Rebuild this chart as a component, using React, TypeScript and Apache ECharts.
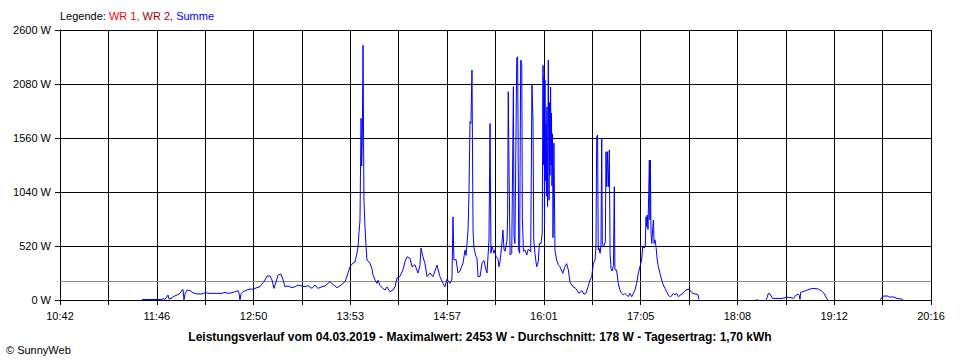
import React, { useEffect, useRef } from "react";
import * as echarts from "echarts";

// x-axis: minutes since 10:42 (span 10:42 .. 20:16 = 574 min)
const timeLabels = ["10:42", "11:46", "12:50", "13:53", "14:57", "16:01", "17:05", "18:08", "19:12", "20:16"];
const spanMinutes = 574;
const divisions = 18;
const yMax = 2600;
const yStep = 520;
const averageWatts = 178;

const titleText =
  "Leistungsverlauf vom 04.03.2019 - Maximalwert: 2453 W - Durchschnitt: 178 W - Tagesertrag: 1,70 kWh";

// Summe (W) sampled over time (minutes since 10:42); null = no data
const sampleMinutes: number[] = [
  54.0, 67.2, 67.9, 69.2, 71.2, 71.8, 73.8, 74.5, 77.1, 79.1, 80.4, 81.1, 81.7, 82.4, 83.7, 85.7, 87.6, 90.3, 93.6, 95.6,
  98.9, 103.5, 106.8, 108.7, 110.7, 113.3, 115.3, 117.3, 118.0, 118.6, 119.3, 120.6, 123.2, 125.2, 127.2, 129.8, 131.8,
  133.8, 135.1, 136.4, 138.4, 139.7, 141.0, 142.3, 143.7, 145.6, 147.0, 148.3, 150.3, 152.9, 154.9, 156.8, 159.5, 161.5,
  163.4, 166.1, 168.0, 170.0, 172.7, 174.6, 176.6, 177.9, 179.9, 182.5, 184.5, 186.5, 187.8, 189.1, 189.8, 191.1, 193.1,
  194.4, 195.7, 196.4, 197.0, 197.7, 198.4, 198.8, 199.2, 199.7, 200.3, 201.0, 201.7, 202.3, 204.3, 205.6, 206.3, 207.6,
  208.9, 209.6, 210.9, 212.9, 214.2, 215.5, 217.5, 219.4, 220.8, 222.1, 224.1, 226.0, 227.4, 228.7, 230.7, 232.0, 233.9,
  235.9, 237.2, 237.9, 239.2, 240.5, 241.9, 243.8, 245.8, 247.1, 248.4, 250.4, 252.4, 253.7, 255.0, 257.0, 258.3, 259.0,
  259.6, 261.0, 262.3, 263.6, 265.6, 266.9, 267.6, 268.9, 269.5, 270.2, 270.8, 271.5, 272.2, 272.8, 274.1, 274.8, 275.5,
  276.8, 278.1, 279.4, 280.7, 281.4, 282.7, 283.4, 284.0, 284.7, 286.0, 286.6, 287.3, 288.6, 289.3, 290.0, 291.3, 291.9,
  292.6, 293.3, 294.6, 295.0, 295.4, 295.9, 296.6, 297.7, 298.8, 299.2, 299.8, 301.0, 301.6, 302.3, 302.9, 303.6, 304.3,
  304.7, 305.4, 306.4, 307.6, 308.6, 310.2, 311.0, 311.7, 312.2, 313.0, 314.1, 315.2, 315.9, 317.0, 317.8, 318.3, 318.6,
  319.0, 319.3, 319.6, 320.0, 320.3, 320.6, 320.9, 321.3, 321.8, 322.3, 322.6, 322.9, 323.3, 323.6, 323.9, 324.2, 324.6,
  324.9, 325.5, 326.2, 327.3, 328.4, 329.5, 331.3, 332.8, 333.9, 335.0, 336.1, 338.1, 340.0, 342.0, 344.0, 345.3, 346.6,
  348.0, 349.3, 350.4, 351.5, 352.6, 353.2, 353.7, 354.3, 354.7, 355.2, 355.9, 356.5, 357.0, 357.4, 358.0, 358.7, 359.4,
  359.8, 360.3, 360.7, 361.4, 362.0, 362.5, 363.1, 363.8, 364.7, 365.3, 365.7, 366.8, 367.9, 369.0, 370.1, 371.2, 372.3,
  373.4, 374.5, 375.6, 376.8, 377.8, 378.9, 380.0, 381.1, 382.2, 383.3, 384.0, 384.9, 385.7, 386.2, 386.6, 387.0, 387.5,
  388.0, 388.4, 388.8, 389.0, 389.5, 390.0, 390.7, 391.1, 391.5, 392.1, 392.8, 393.6, 394.3, 395.4, 396.5, 397.6, 398.7,
  399.8, 400.9, 402.0, 403.1, 404.2, 405.3, 406.4, 407.5, 408.6, 410.6, 411.9, 413.2, 414.5, 416.5, 417.8, 419.1, 420.4,
  421.1, 422.0, 459.0, 459.7, 460.0, 465.3, 465.9, 466.8, 467.9, 469.6, 471.2, 475.8, 478.4, 481.1, 483.2, 484.4, 485.3,
  486.6, 487.2, 487.7, 488.1, 491.0, 494.3, 496.4, 499.7, 501.9, 503.5, 505.2, 506.1, 507.0, 540.4, 541.7, 542.4, 545.7,
  547.0, 547.6, 549.6, 551.6, 554.9, 555.5,
];

const sampleWatts: (number | null)[] = [
  5, 5, 14, 5, 48, 10, 20, 32, 48, 64, 96, 100, 0, 60, 96, 90, 70, 58, 58, 70,
  64, 64, 64, 74, 64, 70, 80, 90, 64, 0, 60, 80, 96, 106, 104, 119, 128,
  167, 193, 231, 231, 193, 112, 170, 240, 250, 193, 128, 135, 119, 128, 144, 135, 128,
  138, 112, 144, 112, 128, 135, 160, 176, 150, 119, 135, 160, 176, 225, 260, 320, 356,
  366, 450, 513, 640, 770, 1750, 1290, 1520, 2453, 960, 700, 513, 385, 356, 300, 240, 193,
  160, 190, 140, 110, 96, 125, 80, 96, 128, 212, 230, 290, 370, 417, 400, 320, 340,
  260, 330, 500, 417, 350, 225, 260, 225, 280, 337, 225, 160, 128, 200, 160, 200, 800,
  385, 390, 260, 280, 356, 480, 430, 674, 1000, 1717, 1700, 2215, 674, 500, 420, 404, 225,
  225, 356, 380, 290, 260, 578, 1700, 450, 520, 450, 480, 417, 400, 320, 370, 560, 674,
  490, 470, 578, 818, 2006, 1300, 433, 450, 2055, 610, 543, 2330, 2343, 481, 450, 2310, 2280,
  802, 470, 480, 433, 490, 465, 2070, 1733, 578, 450, 320, 369, 546, 546, 642, 2260, 1300,
  2150, 700, 2120, 1150, 1700, 1000, 1860, 900, 2310, 960, 1900, 1200, 2050, 1300, 1800, 1100, 1600,
  600, 1510, 480, 385, 340, 320, 257, 321, 350, 290, 170, 128, 110, 64, 90, 55, 64,
  128, 193, 225, 353, 385, 513, 1573, 1589, 481, 500, 450, 520, 1558, 560, 513, 530, 560,
  1428, 1091, 1428, 1091, 1444, 450, 305, 280, 330, 1091, 290, 290, 160, 96, 64, 48, 64,
  48, 32, 64, 32, 64, 96, 160, 257, 321, 385, 513, 500, 513, 802, 706, 818, 680,
  1060, 1348, 770, 1348, 642, 545, 706, 770, 545, 580, 513, 385, 321, 257, 193, 144, 112,
  80, 48, 32, 40, 64, 48, 64, 32, 45, 64, 90, 100, 105, 70, 60, 58, 50,
  5, null, 5, 5, null, 0, 20, 64, 58, 16, 15, 15, 26, 25, 16, 32, 50,
  55, 45, 6, 74, 87, 106, 112, 106, 87, 64, 16, 0, null, 5, 20, 38, 38,
  25, 30, 28, 15, 8, 0,
];

const FONT = "'Liberation Sans', Arial, sans-serif";

export default function App() {
  const ref = useRef<HTMLDivElement>(null);

  useEffect(() => {
    if (!ref.current) return;
    const chart = echarts.init(ref.current, null, { renderer: "svg" });
    const step = spanMinutes / divisions;
    const data = sampleMinutes.map((t, i) => [t, sampleWatts[i] === null ? "-" : sampleWatts[i]]);

    chart.setOption({
      animation: false,
      backgroundColor: "#ffffff",
      textStyle: { fontFamily: FONT },
      grid: { left: 60, right: 29, top: 30, bottom: 60, containLabel: false },
      xAxis: {
        type: "value",
        min: 0,
        max: spanMinutes,
        interval: step,
        axisLine: { show: true, lineStyle: { color: "#000", width: 1 } },
        axisTick: { show: true, length: 5, lineStyle: { color: "#000", width: 1 } },
        splitLine: { show: true, lineStyle: { color: "#000", width: 1 } },
        axisLabel: {
          color: "#000",
          fontSize: 11,
          fontFamily: FONT,
          margin: 10,
          showMinLabel: true,
          showMaxLabel: true,
          formatter: (v: number) => {
            const i = Math.round(v / step);
            return i % 2 === 0 ? timeLabels[i / 2] ?? "" : "";
          },
        },
      },
      yAxis: {
        type: "value",
        min: 0,
        max: yMax,
        interval: yStep,
        axisLine: { show: true, lineStyle: { color: "#000", width: 1 } },
        axisTick: { show: true, length: 5, lineStyle: { color: "#000", width: 1 } },
        splitLine: { show: true, lineStyle: { color: "#000", width: 1 } },
        axisLabel: {
          color: "#000",
          fontSize: 11,
          fontFamily: FONT,
          margin: 9,
          formatter: (v: number) => `${Math.round(v)} W`,
        },
      },
      series: [
        {
          type: "line",
          name: "Summe",
          data,
          showSymbol: false,
          symbol: "none",
          connectNulls: false,
          lineStyle: { color: "#0000ff", width: 1 },
          itemStyle: { color: "#0000ff" },
          z: 3,
          markLine: {
            silent: true,
            symbol: ["none", "none"],
            label: { show: false },
            lineStyle: { color: "#8c8c8c", type: "solid", width: 1 },
            data: [{ yAxis: averageWatts }],
            z: 2,
          },
        },
      ],
      graphic: [
        {
          type: "text",
          left: 60,
          top: 10,
          style: {
            text: "{a|Legende: }{b|WR 1, }{c|WR 2, }{d|Summe}",
            fontFamily: FONT,
            fontSize: 11,
            rich: {
              a: { fill: "#000", fontSize: 11, fontFamily: FONT },
              b: { fill: "#ff0000", fontSize: 11, fontFamily: FONT },
              c: { fill: "#a00000", fontSize: 11, fontFamily: FONT },
              d: { fill: "#0000ff", fontSize: 11, fontFamily: FONT },
            },
          },
        },
        {
          type: "text",
          x: 480,
          y: 337,
          style: {
            text: titleText,
            fill: "#000",
            fontFamily: FONT,
            fontSize: 12,
            fontWeight: "bold",
            align: "center",
            verticalAlign: "middle",
          },
        },
        {
          type: "text",
          x: 6,
          y: 350,
          style: {
            text: "© SunnyWeb",
            fill: "#000",
            fontFamily: FONT,
            fontSize: 11,
            align: "left",
            verticalAlign: "middle",
          },
        },
      ],
    });

    return () => chart.dispose();
  }, []);

  return (
    <div
      ref={ref}
      style={{ position: "fixed", left: 0, top: 0, width: 960, height: 360, background: "#fff" }}
    />
  );
}
